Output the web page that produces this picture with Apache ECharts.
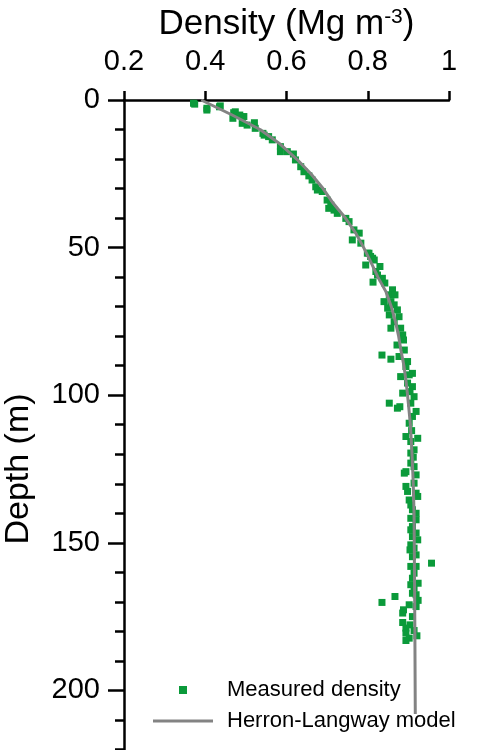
<!DOCTYPE html>
<html>
<head>
<meta charset="utf-8">
<script src="https://cdn.jsdelivr.net/npm/echarts@6/dist/echarts.min.js"></script>
<style>
  html, body { margin: 0; padding: 0; background: #fff; }
  #chart { width: 477px; height: 750px; }
</style>
</head>
<body>
<div id="chart"></div>
<script>
// 横轴刻度
var densityTicks = [0.2, 0.4, 0.6, 0.8, 1];
var depthTicks = [0, 50, 100, 150, 200];

// 实测密度 (深度 m, 密度 Mg m-3)
var measuredDepth = [
  1.1, 1.4, 2.0, 2.3, 2.8, 3.4, 4.0, 4.3, 5.1, 5.6, 6.2, 7.7, 7.9, 8.5, 9.6,
  11.3, 11.9, 12.4, 13.5, 15.8, 17.5, 17.5, 18.3, 20.3, 22.6, 24.3, 25.7, 27.1, 29.4, 30.5,
  31.0, 33.9, 35.6, 36.7, 37.3, 38.4, 40.1, 41.2, 44.0, 45.1, 47.4, 48.5, 51.9, 51.9, 53.0,
  53.6, 54.2, 55.9, 56.4, 58.1, 59.3, 60.4, 61.7, 62.0, 64.3, 66.0, 66.0, 68.3, 68.3, 69.4,
  70.5, 71.1, 72.8, 73.4, 75.1, 77.3, 77.3, 79.6, 81.3, 83.0, 84.7, 86.4, 86.9, 87.8, 88.6,
  90.3, 92.6, 93.1, 93.7, 95.9, 97.1, 98.8, 99.3, 100.5, 102.7, 102.7, 103.9, 104.4, 105.5, 107.2,
  109.5, 112.0, 114.0, 114.6, 115.7, 118.5, 119.6, 121.0, 123.0, 124.2, 125.9, 126.4, 127.0, 129.8, 130.9,
  132.6, 133.2, 134.3, 135.5, 137.2, 138.8, 140.0, 141.7, 142.2, 144.5, 145.6, 146.7, 147.9, 149.0, 150.7,
  151.8, 152.4, 154.1, 154.7, 156.9, 158.0, 158.0, 160.3, 162.0, 163.7, 164.2, 165.4, 167.1, 167.6, 168.2,
  169.5, 170.2, 171.0, 171.6, 172.7, 173.8, 175.0, 177.0, 177.8, 178.9, 179.7, 180.6, 181.5, 182.3, 183.1
];
var measuredDensity = [
  0.371, 0.374, 0.437, 0.435, 0.404, 0.404, 0.474, 0.470, 0.485, 0.495, 0.468, 0.521, 0.491, 0.503, 0.523,
  0.542, 0.545, 0.556, 0.565, 0.585, 0.585, 0.602, 0.617, 0.622, 0.635, 0.643, 0.655, 0.663, 0.672, 0.676,
  0.688, 0.700, 0.709, 0.704, 0.717, 0.725, 0.746, 0.754, 0.766, 0.779, 0.762, 0.783, 0.799, 0.803, 0.807,
  0.812, 0.816, 0.795, 0.830, 0.820, 0.824, 0.836, 0.813, 0.842, 0.861, 0.853, 0.867, 0.840, 0.857, 0.865,
  0.849, 0.873, 0.853, 0.877, 0.865, 0.857, 0.881, 0.886, 0.888, 0.872, 0.890, 0.835, 0.877, 0.857, 0.898,
  0.894, 0.910, 0.902, 0.881, 0.898, 0.910, 0.904, 0.886, 0.914, 0.853, 0.906, 0.879, 0.873, 0.919, 0.910,
  0.902, 0.908, 0.894, 0.923, 0.906, 0.914, 0.906, 0.912, 0.906, 0.914, 0.894, 0.890, 0.919, 0.914, 0.894,
  0.898, 0.919, 0.923, 0.902, 0.906, 0.910, 0.919, 0.906, 0.919, 0.910, 0.906, 0.919, 0.910, 0.923, 0.906,
  0.914, 0.904, 0.919, 0.910, 0.957, 0.906, 0.919, 0.914, 0.910, 0.924, 0.906, 0.914, 0.910, 0.919, 0.867,
  0.924, 0.835, 0.902, 0.919, 0.888, 0.886, 0.910, 0.886, 0.904, 0.894, 0.914, 0.894, 0.921, 0.902, 0.894
];

// Herron-Langway 模型曲线
var modelDepth = [0, 5, 10, 15, 20, 25, 30, 35, 40, 45, 50, 55, 60, 65, 70, 75, 80, 85, 90, 95, 100, 110, 120, 130, 140, 160, 180, 208];
var modelDensity = [0.39, 0.465, 0.535, 0.585, 0.625, 0.66, 0.69, 0.715, 0.745, 0.77, 0.79, 0.808, 0.825, 0.845, 0.858, 0.868, 0.876, 0.882, 0.889, 0.894, 0.898, 0.905, 0.909, 0.912, 0.914, 0.915, 0.916, 0.917];

var font = 'Liberation Sans, Arial, sans-serif';

var measuredData = measuredDepth.map(function (d, i) { return [measuredDensity[i], d]; });
var modelData = modelDepth.map(function (d, i) { return [modelDensity[i], d]; });

var myChart = echarts.init(document.getElementById('chart'));
var option = {
    animation: false,
    grid: { left: 124, right: 28, top: 100, height: 738, outerBoundsMode: 'none', containLabel: false },
    xAxis: {
        type: 'value',
        position: 'top',
        min: densityTicks[0],
        max: densityTicks[densityTicks.length - 1],
        interval: 0.2,
        name: 'Density (Mg m{sup|-3})',
        nameLocation: 'middle',
        nameGap: 55,
        nameTextStyle: {
            color: '#000', fontFamily: font, fontSize: 35,
            rich: { sup: { fontSize: 21, fontFamily: font, color: '#000', verticalAlign: 'top', padding: [0, 0, 14, 0] } }
        },
        axisLine: { onZero: false, lineStyle: { color: '#000', width: 2.5 } },
        axisTick: { show: true, length: 9, lineStyle: { color: '#000', width: 2.5 } },
        axisLabel: { color: '#000', fontFamily: font, fontSize: 29, margin: 24 },
        splitLine: { show: false }
    },
    yAxis: {
        type: 'value',
        inverse: true,
        min: 0,
        max: 250,
        interval: 50,
        name: 'Depth (m)',
        nameLocation: 'middle',
        nameGap: 88,
        nameTextStyle: { color: '#000', fontFamily: font, fontSize: 34 },
        axisLine: { onZero: false, lineStyle: { color: '#000', width: 2.5 } },
        axisTick: { show: true, length: 16, lineStyle: { color: '#000', width: 2.5 } },
        minorTick: { show: true, splitNumber: 5, length: 9, lineStyle: { color: '#000', width: 2.5 } },
        axisLabel: {
            color: '#000', fontFamily: font, fontSize: 29, margin: 24,
            formatter: function (v) { return depthTicks.indexOf(v) >= 0 ? String(v) : ''; }
        },
        splitLine: { show: false }
    },
    legend: {
        orient: 'vertical',
        left: 148,
        top: 674,
        itemWidth: 60,
        itemHeight: 8,
        itemGap: 9,
        symbolKeepAspect: true,
        textStyle: { color: '#000', fontFamily: font, fontSize: 22, padding: [0, 0, 0, 9] },
        data: [
            { name: 'Measured density', icon: 'path://M0,0 H8 V8 H0 Z' },
            { name: 'Herron-Langway model', icon: 'path://M0,0 H60 V3 H0 Z' }
        ]
    },
    series: [
        {
            name: 'Herron-Langway model',
            type: 'line',
            data: modelData,
            showSymbol: false,
            symbol: 'none',
            smooth: false,
            lineStyle: { color: '#838383', width: 3 },
            itemStyle: { color: '#838383' },
            z: 3
        },
        {
            name: 'Measured density',
            type: 'scatter',
            data: measuredData,
            symbol: 'rect',
            symbolSize: 7,
            itemStyle: { color: '#0b9a3a', opacity: 1 },
            z: 2
        }
    ]
};
myChart.setOption(option);
</script>
</body>
</html>
